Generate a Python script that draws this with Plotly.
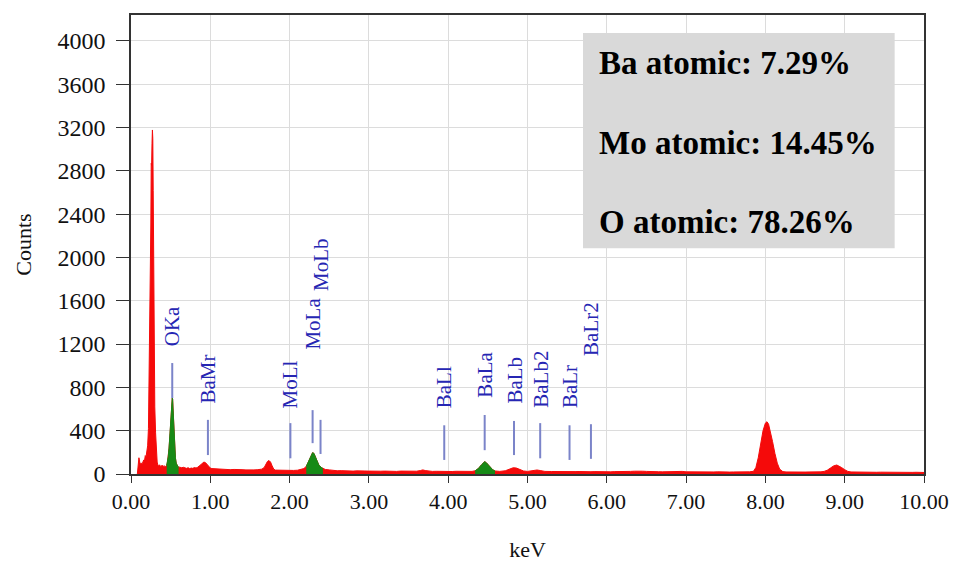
import plotly.graph_objects as go

# ---------------- data ----------------
energy_kev = [
    0.08, 0.09, 0.10, 0.11, 0.12, 0.13, 0.14, 0.15, 0.16, 0.17, 0.18, 0.19,
    0.20, 0.21, 0.22, 0.23, 0.24, 0.245, 0.25, 0.255, 0.26, 0.265, 0.27, 0.275,
    0.28, 0.285, 0.29, 0.295, 0.30, 0.31, 0.32, 0.33, 0.34, 0.35, 0.36, 0.37,
    0.38, 0.39, 0.40, 0.41, 0.42, 0.43, 0.44, 0.45, 0.46, 0.47, 0.48, 0.49,
    0.50, 0.51, 0.52, 0.525, 0.53, 0.54, 0.55, 0.56, 0.57, 0.58, 0.59, 0.60,
    0.62, 0.64, 0.66, 0.68, 0.70, 0.72, 0.74, 0.76, 0.78, 0.80, 0.82, 0.84,
    0.86, 0.88, 0.90, 0.92, 0.94, 0.96, 0.98, 1.00, 1.02, 1.05, 1.10, 1.15,
    1.20, 1.25, 1.30, 1.35, 1.40, 1.45, 1.50, 1.55, 1.60, 1.65, 1.68, 1.70,
    1.72, 1.74, 1.76, 1.78, 1.80, 1.82, 1.85, 1.90, 1.95, 2.00, 2.05, 2.10,
    2.15, 2.18, 2.21, 2.23, 2.25, 2.27, 2.29, 2.30, 2.31, 2.33, 2.35, 2.37,
    2.40, 2.42, 2.45, 2.50, 2.55, 2.60, 2.65, 2.70, 2.75, 2.80, 2.85, 2.90,
    2.95, 3.00, 3.05, 3.10, 3.15, 3.20, 3.25, 3.30, 3.35, 3.40, 3.45, 3.50,
    3.55, 3.60, 3.65, 3.68, 3.71, 3.75, 3.80, 3.85, 3.90, 3.95, 4.00, 4.05,
    4.10, 4.15, 4.20, 4.25, 4.30, 4.34, 4.38, 4.42, 4.46, 4.48, 4.52, 4.56,
    4.59, 4.65, 4.72, 4.78, 4.82, 4.86, 4.90, 4.95, 5.00, 5.04, 5.08, 5.12,
    5.16, 5.22, 5.30, 5.35, 5.40, 5.45, 5.50, 5.55, 5.60, 5.65, 5.70, 5.75,
    5.80, 5.85, 5.90, 5.95, 6.00, 6.05, 6.10, 6.15, 6.20, 6.25, 6.30, 6.35,
    6.40, 6.45, 6.50, 6.55, 6.60, 6.65, 6.70, 6.75, 6.80, 6.85, 6.90, 6.95,
    7.00, 7.05, 7.10, 7.15, 7.20, 7.25, 7.30, 7.35, 7.40, 7.45, 7.50, 7.55,
    7.60, 7.65, 7.70, 7.75, 7.80, 7.85, 7.88, 7.91, 7.94, 7.97, 8.00, 8.02,
    8.04, 8.06, 8.09, 8.12, 8.15, 8.18, 8.22, 8.26, 8.30, 8.35, 8.40, 8.45,
    8.50, 8.55, 8.60, 8.65, 8.70, 8.74, 8.78, 8.82, 8.86, 8.90, 8.93, 8.96,
    9.00, 9.04, 9.08, 9.15, 9.20, 9.25, 9.30, 9.35, 9.40, 9.45, 9.50, 9.55,
    9.60, 9.65, 9.70, 9.75, 9.80, 9.85, 9.90, 9.95, 10.00,
]
counts = [
    0, 60, 150, 110, 90, 100, 95, 110, 130, 120, 170, 160,
    210, 260, 420, 930, 1500, 1850, 2300, 2870, 2850, 3050, 3178, 3100,
    2620, 2000, 1540, 1000, 620, 380, 200, 110, 80, 75, 85, 70,
    78, 72, 80, 70, 75, 68, 72, 80, 110, 160, 240, 350,
    480, 620, 700, 690, 600, 420, 260, 150, 100, 80, 70, 65,
    60, 58, 62, 55, 52, 58, 50, 55, 52, 60, 55, 62,
    70, 85, 100, 110, 105, 85, 65, 55, 50, 48, 45, 42,
    44, 40, 42, 38, 40, 38, 36, 38, 40, 45, 60, 90,
    115, 125, 110, 75, 45, 36, 35, 33, 34, 32, 33, 35,
    40, 50, 70, 100, 140, 175, 197, 195, 185, 150, 110, 80,
    60, 50, 42, 38, 32, 30, 31, 28, 30, 27, 29, 26,
    28, 27, 25, 28, 26, 27, 25, 26, 24, 27, 25, 26,
    24, 26, 32, 38, 32, 26, 24, 25, 23, 25, 24, 23,
    25, 24, 23, 25, 24, 30, 50, 85, 114, 105, 75, 40,
    28, 24, 30, 45, 58, 55, 40, 28, 24, 27, 30, 37,
    32, 24, 23, 22, 24, 22, 23, 21, 22, 23, 21, 22,
    21, 22, 20, 22, 21, 20, 22, 21, 22, 20, 24, 26,
    28, 26, 24, 21, 20, 21, 20, 22, 21, 24, 27, 24,
    20, 19, 21, 20, 19, 20, 18, 19, 20, 18, 19, 18,
    19, 18, 19, 18, 20, 25, 60, 150, 280, 400, 470, 483,
    460, 400, 300, 190, 100, 45, 22, 19, 18, 19, 18, 17,
    18, 19, 18, 19, 20, 24, 35, 55, 75, 83, 75, 60,
    40, 24, 19, 17, 18, 17, 16, 17, 16, 17, 16, 17,
    16, 17, 16, 15, 16, 15, 16, 15, 14,
]

# identified peak windows shown in green (keV)
green_windows = [(0.45, 0.60), (2.21, 2.42), (4.34, 4.59)]

# element line markers
marker_names = ["OKa", "BaMr", "MoLl", "MoLa", "MoLb", "BaLl", "BaLa",
                "BaLb", "BaLb2", "BaLr", "BaLr2"]
marker_energy = [0.52, 0.97, 2.01, 2.29, 2.39, 3.95, 4.46, 4.83, 5.16, 5.53, 5.80]
marker_line_low = [702, 175, 145, 285, 185, 130, 220, 175, 145, 130, 140]
marker_line_high = [1025, 500, 470, 590, 500, 450, 545, 490, 470, 450, 460]
marker_label_base = [1164, 637, 591, 1127, 1672, 591, 684, 628, 591, 591, 1072]

composition_lines = ["Ba atomic: 7.29%", "Mo atomic: 14.45%", "O atomic: 78.26%"]

y_ticks = [0, 400, 800, 1200, 1600, 2000, 2400, 2800, 3200, 3600, 4000]
x_ticks = [0, 1, 2, 3, 4, 5, 6, 7, 8, 9, 10]

# ---------------- figure ----------------
FONT = "Liberation Serif, Times New Roman, serif"
RED = "#f50a0a"
GREEN = "#168a16"
LINE_BLUE = "#7b84c9"
TEXT_BLUE = "#2626b3"

fig = go.Figure()

fig.add_trace(go.Scatter(
    x=energy_kev, y=counts, mode="lines", fill="tozeroy",
    line=dict(color=RED, width=1), fillcolor=RED, hoverinfo="x+y",
    showlegend=False,
))

for lo, hi in green_windows:
    gx = [e for e in energy_kev if lo <= e <= hi]
    gy = [c for e, c in zip(energy_kev, counts) if lo <= e <= hi]
    fig.add_trace(go.Scatter(
        x=gx, y=gy, mode="lines", fill="tozeroy",
        line=dict(color=GREEN, width=1), fillcolor=GREEN,
        showlegend=False,
    ))

lx, ly = [], []
for e, a, b in zip(marker_energy, marker_line_low, marker_line_high):
    lx += [e, e, None]
    ly += [a, b, None]
fig.add_trace(go.Scatter(x=lx, y=ly, mode="lines",
                         line=dict(color=LINE_BLUE, width=2),
                         hoverinfo="skip", showlegend=False))

for name, e, base in zip(marker_names, marker_energy, marker_label_base):
    fig.add_annotation(x=e, y=base, text=name, textangle=-90, showarrow=False,
                       xanchor="center", yanchor="bottom",
                       font=dict(family=FONT, size=21, color=TEXT_BLUE))

# composition box
fig.add_shape(type="rect", xref="paper", yref="paper",
              x0=0.570, x1=0.963, y0=0.492, y1=0.961,
              fillcolor="#d9d9d9", line=dict(width=0), layer="above")
for txt, yp in zip(composition_lines, [0.895, 0.721, 0.549]):
    fig.add_annotation(xref="paper", yref="paper", x=0.588, y=yp, text="<b>" + txt + "</b>",
                       showarrow=False, xanchor="left", yanchor="middle",
                       font=dict(family=FONT, size=33, color="black"))

axis_common = dict(showline=True, linecolor="#333333", linewidth=1.5, mirror=True,
                   showgrid=True, gridcolor="#dcdcdc", gridwidth=1,
                   ticks="outside", tickcolor="#333333", zeroline=False,
                   automargin=False)

fig.update_xaxes(range=[0, 10], tickvals=x_ticks, tickformat=".2f", ticklen=7,
                 tickfont=dict(family=FONT, size=22, color="#111111"),
                 title=dict(text="keV", font=dict(family=FONT, size=22, color="#111111"),
                            standoff=30),
                 **axis_common)
fig.update_yaxes(range=[0, 4240], tickvals=y_ticks, ticklen=13, ticklabelstandoff=6,
                 tickfont=dict(family=FONT, size=24, color="#111111"),
                 title=dict(text="Counts", font=dict(family=FONT, size=22, color="#111111"),
                            standoff=20),
                 **axis_common)

fig.update_layout(
    width=954, height=562,
    margin=dict(l=131, r=30, t=15, b=88),
    paper_bgcolor="white", plot_bgcolor="white",
    font=dict(family=FONT),
)

# remove the browser's default page margin so the figure fills the window exactly
fig.write_html("out.html", config={"displayModeBar": False},
               post_script="document.body.style.margin='0';")
